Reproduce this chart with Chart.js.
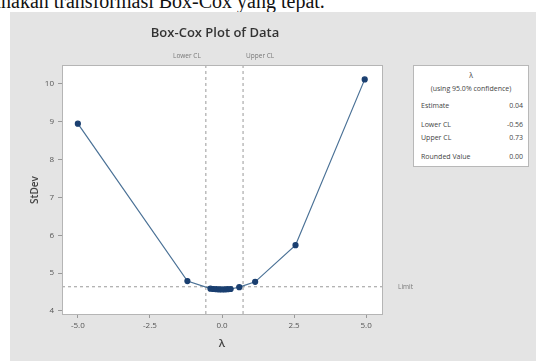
<!DOCTYPE html>
<html>
<head>
<meta charset="utf-8">
<script src="https://cdn.jsdelivr.net/npm/chart.js@4.4.1/dist/chart.umd.min.js"></script>
<style>
    body { margin: 0; width: 536px; height: 361px; overflow: hidden; background: #fff; position: relative; font-family: "Open Sans", sans-serif; }
    .doc-text { position: absolute; left: -9px; top: -10px; font-family: "Liberation Serif", serif; font-size: 20px; color: #111; white-space: nowrap; }
    .panel { position: absolute; left: 10px; top: 12px; width: 526px; height: 349px; background: #e4e4e4; }
    canvas { position: absolute; left: 0; top: 0; }
    .title { position: absolute; left: 115px; width: 200px; top: 23px; text-align: center; font-size: 13px; font-weight: 600; color: #333; }
    .ytitle { position: absolute; left: 14px; top: 183px; width: 40px; text-align: center; font-size: 10px; font-weight: 600; color: #444; transform: rotate(-90deg); }
    .xtitle { position: absolute; left: 212px; top: 335px; width: 20px; text-align: center; font-size: 11px; font-weight: 600; color: #444; }
    .info { position: absolute; left: 413px; top: 65px; width: 114px; height: 100px; background: #fff; border: 1px solid #b8b8b8; font-size: 7px; color: #444; }
    .info .c { text-align: center; }
    .info .r { display: flex; justify-content: space-between; padding: 0 5px 0 7px; }
</style>
</head>
<body>
<div class="doc-text">unakan transformasi Box-Cox yang tepat.</div>
<div class="panel"></div>
<canvas id="boxcoxChart" width="536" height="361"></canvas>
<div class="title">Box-Cox Plot of Data</div>
<div class="ytitle">StDev</div>
<div class="xtitle">λ</div>
<div class="info">
    <div class="c" style="margin-top:5px">λ</div>
    <div class="c" style="margin-top:4px">(using 95.0% confidence)</div>
    <div class="r" style="margin-top:8px"><span>Estimate</span><span>0.04</span></div>
    <div class="r" style="margin-top:10px"><span>Lower CL</span><span>-0.56</span></div>
    <div class="r" style="margin-top:4px"><span>Upper CL</span><span>0.73</span></div>
    <div class="r" style="margin-top:10px"><span>Rounded Value</span><span>0.00</span></div>
</div>
<script>
// Box-Cox data
const lambdas = [-5, -1.2, -0.4, -0.3, -0.2, -0.1, 0, 0.1, 0.2, 0.3, 0.6, 1.15, 2.55, 4.95];
const stDevs = [8.95, 4.79, 4.59, 4.58, 4.575, 4.57, 4.57, 4.57, 4.575, 4.58, 4.63, 4.77, 5.74, 10.12];
const lowerCL = -0.56;
const upperCL = 0.73;
const limitValue = 4.64;
const xTicks = [-5, -2.5, 0, 2.5, 5];
const yTicks = [4, 5, 6, 7, 8, 9, 10];
const xRange = [-5.55, 5.55];
const yRange = [3.92, 10.5];

// Draw white plot area, border and the reference line labels
const plotDecor = {
    id: 'plotDecor',
    beforeDatasetsDraw(chart) {
        const { ctx, chartArea: a } = chart;
        ctx.save();
        ctx.fillStyle = '#fff';
        ctx.fillRect(a.left, a.top, a.right - a.left, a.bottom - a.top);
        ctx.restore();
    },
    afterDraw(chart) {
        const { ctx, chartArea: a, scales } = chart;
        ctx.save();
        ctx.strokeStyle = '#b5b5b5';
        ctx.lineWidth = 1;
        ctx.strokeRect(a.left + 0.5, a.top + 0.5, a.right - a.left, a.bottom - a.top);
        ctx.font = '6.5px "Open Sans", sans-serif';
        ctx.fillStyle = '#777';
        ctx.textBaseline = 'middle';
        const xl = scales.x.getPixelForValue(lowerCL);
        const xu = scales.x.getPixelForValue(upperCL);
        ctx.textAlign = 'right';
        ctx.fillText('Lower CL', xl - 5, a.top - 9);
        ctx.textAlign = 'left';
        ctx.fillText('Upper CL', xu + 3, a.top - 9);
        ctx.fillText('Limit', a.right + 16, scales.y.getPixelForValue(limitValue));
        ctx.restore();
    }
};

function initializeBoxCoxChart() {
    const ctx = document.getElementById('boxcoxChart').getContext('2d');
    const points = lambdas.map((l, i) => ({ x: l, y: stDevs[i] }));
    const refStyle = { borderColor: '#9a9a9a', borderWidth: 1, borderDash: [3, 3], pointRadius: 0, showLine: true, fill: false };

    new Chart(ctx, {
        type: 'scatter',
        data: {
            datasets: [
                {
                    data: points,
                    showLine: true,
                    borderColor: '#4a7196',
                    borderWidth: 1.2,
                    pointBackgroundColor: '#1a3f70',
                    pointBorderColor: '#1a3f70',
                    pointRadius: 2.5
                },
                { ...refStyle, data: [{ x: lowerCL, y: yRange[0] }, { x: lowerCL, y: yRange[1] }] },
                { ...refStyle, data: [{ x: upperCL, y: yRange[0] }, { x: upperCL, y: yRange[1] }] },
                { ...refStyle, data: [{ x: xRange[0], y: limitValue }, { x: xRange[1], y: limitValue }] }
            ]
        },
        options: {
            responsive: false,
            animation: false,
            layout: { padding: { left: 20, top: 65, right: 154, bottom: 14 } },
            plugins: { legend: { display: false }, tooltip: { enabled: false } },
            scales: {
                x: {
                    type: 'linear',
                    min: xRange[0],
                    max: xRange[1],
                    afterBuildTicks: s => { s.ticks = xTicks.map(v => ({ value: v })); },
                    afterFit: s => { s.height = 33; },
                    ticks: { color: '#555', font: { size: 8, family: 'Open Sans' }, padding: 3, callback: v => v.toFixed(1) },
                    grid: { drawOnChartArea: false, tickLength: 4, color: '#999' },
                    border: { color: '#b5b5b5' }
                },
                y: {
                    min: yRange[0],
                    max: yRange[1],
                    afterBuildTicks: s => { s.ticks = yTicks.map(v => ({ value: v })); },
                    afterFit: s => { s.width = 42; },
                    ticks: { color: '#555', font: { size: 8, family: 'Open Sans' }, padding: 4 },
                    grid: { drawOnChartArea: false, tickLength: 4, color: '#999' },
                    border: { color: '#b5b5b5' }
                }
            }
        },
        plugins: [plotDecor]
    });
}

initializeBoxCoxChart();
</script>
</body>
</html>
